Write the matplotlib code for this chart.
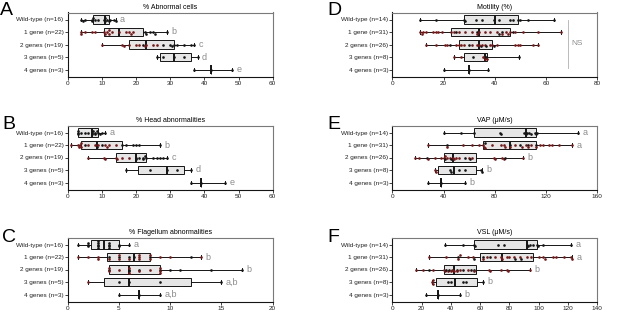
import numpy as np
import matplotlib.pyplot as plt

plt.rcParams['font.family'] = ['Liberation Sans', 'DejaVu Sans']

left_groups = ["Wild-type (n=16)", "1 gene (n=22)", "2 genes (n=19)", "3 genes (n=5)", "4 genes (n=3)"]
right_groups = ["Wild-type (n=14)", "1 gene (n=31)", "2 genes (n=26)", "3 genes (n=8)", "4 genes (n=3)"]

#------------------------------------------------------A: % abnormal cells
a_black = [[4, 4.5, 5, 7, 7.2, 7.5, 8, 9, 10.5, 11, 11, 11.5, 12, 12.5, 13.5, 14],
           [22.5, 23, 24, 25, 25.5, 29],
           [22, 28, 30, 30.5, 31, 32, 34, 36, 37],
           [26, 28, 31, 34, 38],
           [37, 42, 48]]
a_red = [[], [4, 4, 5, 7, 8, 10.5, 11, 11.5, 12, 12, 13, 15, 17, 18, 18.5, 19],
         [10, 16, 16.5, 18, 20, 21, 22.5, 23, 25, 26], [], []]
a_low = [4, 4, 10, 26, 37]
a_q1 = [7.3, 10.5, 18, 27, 42]
a_med = [11, 15, 23, 31, 42]
a_q3 = [12, 22, 31, 36, 42]
a_high = [14, 29, 37, 38, 48]
a_sig = ["a", "b", "c", "d", "e"]

#------------------------------------------------------B: % head abnormalities
b_black = [[3, 3, 3, 4, 5, 6, 7, 7, 7.5, 8, 8, 8.5, 9, 9.5, 10, 11],
           [5, 8.5, 10, 16, 17, 19, 20, 21, 27],
           [20, 20, 21, 22, 22, 22.5, 23, 25, 26, 27, 28, 29],
           [17, 24, 29, 32, 36],
           [36, 39, 46]]
b_red = [[], [1, 3, 3.3, 3.7, 4, 4, 6, 8, 9, 11, 11.5, 12, 14],
         [6, 10.5, 11, 14, 14.5, 16, 18], [], []]
b_low = [3, 1, 6, 17, 36]
b_q1 = [3, 4, 14, 20.5, 39]
b_med = [7, 8.5, 20, 29, 39]
b_q3 = [9, 16, 23, 34, 39]
b_high = [11, 27, 29, 36, 46]
b_sig = ["a", "b", "c", "d", "e"]

#------------------------------------------------------C: % flagellum abnormalities
c_black = [[1, 2, 2, 2, 3, 3, 3, 3, 3, 4, 4, 4, 4, 5, 5, 6],
           [4, 5, 6, 6.5, 8, 12],
           [4, 6, 6, 7, 9, 10, 11, 14, 17],
           [5, 6, 9, 15],
           [5, 7, 9]]
c_red = [[], [1, 2, 3, 3, 4, 5, 5, 6, 7, 7, 7, 8, 8, 9, 10, 13],
         [4, 4, 5, 6, 6, 7, 8, 9, 9, 9], [2], []]
c_low = [1, 1, 4, 2, 5]
c_q1 = [2.3, 3.8, 4, 3.5, 7]
c_med = [3.5, 6.5, 6, 6, 7]
c_q3 = [5, 8, 9, 12, 7]
c_high = [6, 13, 17, 15, 9]
c_sig = ["a", "b", "b", "a,b", "a,b"]

#------------------------------------------------------D: motility
d_black = [[11, 17, 28, 28.5, 32.5, 35, 39.5, 41.5, 46, 47, 49, 50, 53, 63],
           [25, 33, 41.5, 43, 47],
           [22.5, 30, 34.5, 36.5, 39.5],
           [31.5, 36.5, 49.5],
           [20, 30, 37.5]]
d_red = [[], [11, 11.5, 12, 13, 16, 17, 18, 19.5, 23, 24, 26, 28.5, 31, 33, 34, 36, 38, 41,
              43, 44.5, 45, 46, 48, 51, 57, 66],
         [13, 17, 20.5, 21.5, 25, 26, 27, 28, 31, 33, 34, 35, 36, 38, 39, 41, 48, 49, 50, 55, 57],
         [24, 27, 35.5, 36, 37], []]
d_low = [11, 11, 13, 24, 20]
d_q1 = [28, 23, 26, 28, 30]
d_med = [40, 34, 34, 36, 30]
d_q3 = [49, 46, 39, 37, 30]
d_high = [63, 66, 57, 49.5, 37.5]
d_sig = ["", "", "", "", ""]

#------------------------------------------------------E: VAP
e_black = [[40, 54, 64, 84, 85, 103, 104, 105, 107, 108, 111, 112, 113, 145],
           [43, 72, 92, 100, 106, 112],
           [27, 41, 46, 57, 61, 88],
           [45, 46, 52, 57, 69, 70],
           [28, 38, 57]]
e_red = [[], [28, 43, 55, 62, 68, 71, 71.5, 72, 78, 85, 87, 88, 92, 96, 101, 104, 106, 108,
              112, 115, 118, 122, 125, 130, 140],
         [18, 21, 28, 33, 38, 40, 41, 43, 45, 47, 48, 50, 52, 60, 62, 79, 80, 86, 87, 102],
         [33, 34], []]
e_low = [40, 28, 18, 33, 28]
e_q1 = [64, 71, 40, 36, 38]
e_med = [104, 92, 47, 48, 38]
e_q3 = [112, 112, 65, 65, 38]
e_high = [145, 140, 102, 70, 57]
e_sig = ["a", "a", "b", "b", "b"]

#------------------------------------------------------F: VSL
f_black = [[36, 48, 56, 56.5, 72, 76, 92, 93, 94, 96, 99, 99.5, 103, 122],
           [45, 56, 62, 67, 84, 88],
           [25, 37, 39, 44, 48, 54, 56],
           [38, 40, 48, 50, 62],
           [23, 31, 46]]
f_red = [[], [25, 37, 45, 46, 52, 55, 62, 65, 70, 74, 75, 78, 80, 83, 87, 92, 95, 100, 103,
              104, 110, 112, 117, 122, 123],
         [16, 21, 28, 35, 36, 38, 40, 41, 42, 44, 46, 52, 56, 66, 67, 74, 78, 79, 94],
         [27, 27.5, 28], []]
f_low = [36, 25, 16, 27, 23]
f_q1 = [56, 60, 35, 30, 31]
f_med = [92, 75, 42, 43, 31]
f_q3 = [99, 96, 57, 58, 31]
f_high = [122, 123, 94, 62, 46]
f_sig = ["a", "a", "b", "b", "b"]

BLACK = "#151515"
RED = "#761818"
GREY = "#8c8c8c"


#------------------------------------------------------simple beeswarm offsets
def swarm(values, min_dx, dy):
    placed = []
    offs = []
    for v in values:
        for level in [0, dy, -dy, 2 * dy, -2 * dy]:
            if all(abs(v - pv) >= min_dx or pl != level for pv, pl in placed):
                break
        placed.append((v, level))
        offs.append(level)
    return offs


def panel(ax, title, groups, black, red, low, q1, med, q3, high, sig, xmax, step):
    stats = []
    for i in range(len(groups)):
        stats.append(dict(whislo=low[i], q1=q1[i], med=med[i], q3=q3[i], whishi=high[i], fliers=[]))
    ax.bxp(stats, positions=range(len(groups)), orientation="horizontal", widths=0.66,
           patch_artist=True, showfliers=False, capwidths=0.3,
           boxprops=dict(facecolor="#e6e6e6", edgecolor=BLACK, linewidth=0.7),
           medianprops=dict(color=BLACK, linewidth=1.4),
           whiskerprops=dict(color=BLACK, linewidth=0.7),
           capprops=dict(color=BLACK, linewidth=0.7))

    min_dx = xmax / 205 * 1.8
    for i in range(len(groups)):
        vals = [(v, BLACK) for v in black[i]] + [(v, RED) for v in red[i]]
        vals.sort(key=lambda t: t[0])
        offs = swarm([v for v, c in vals], min_dx, 0.13)
        for (v, c), o in zip(vals, offs):
            ax.plot(v, i + o, "o", ms=1.9, color=c, mec="none", zorder=5)
        if sig[i]:
            ax.text(high[i] + xmax * 0.022, i, sig[i], va="center", ha="left",
                    color=GREY, fontsize=6.5)

    ax.set(xlim=(0, xmax), xticks=np.arange(0, xmax + step / 2, step),
           ylim=(4.56, -0.56), yticks=range(len(groups)))
    ax.set_yticklabels(groups)
    ax.set_title(title, fontsize=5, pad=2.5)
    ax.tick_params(labelsize=4.6, length=2, width=0.6, pad=1, colors="#222222")
    for s in ["left", "bottom"]:
        ax.spines[s].set_color(BLACK)
        ax.spines[s].set_linewidth(0.8)
    for s in ["top", "right"]:
        ax.spines[s].set_color("#7a7a7a")
        ax.spines[s].set_linewidth(0.8)


fig = plt.figure(figsize=(6.17, 3.17), dpi=100)
W = 205 / 617
H = 64 / 317
lefts = [67.7 / 617, 392.3 / 617]
bottoms = [1 - 76.5 / 317, 1 - 189.5 / 317, 1 - 301.5 / 317]

axA = fig.add_axes([lefts[0], bottoms[0], W, H])
axB = fig.add_axes([lefts[0], bottoms[1], W, H])
axC = fig.add_axes([lefts[0], bottoms[2], W, H])
axD = fig.add_axes([lefts[1], bottoms[0], W, H])
axE = fig.add_axes([lefts[1], bottoms[1], W, H])
axF = fig.add_axes([lefts[1], bottoms[2], W, H])

panel(axA, "% Abnormal cells", left_groups, a_black, a_red, a_low, a_q1, a_med, a_q3, a_high, a_sig, 60, 10)
panel(axB, "% Head abnormalities", left_groups, b_black, b_red, b_low, b_q1, b_med, b_q3, b_high, b_sig, 60, 10)
panel(axC, "% Flagellum abnormalities", left_groups, c_black, c_red, c_low, c_q1, c_med, c_q3, c_high, c_sig, 20, 5)
panel(axD, "Motility (%)", right_groups, d_black, d_red, d_low, d_q1, d_med, d_q3, d_high, d_sig, 80, 20)
panel(axE, "VAP (\u03bcM/s)", right_groups, e_black, e_red, e_low, e_q1, e_med, e_q3, e_high, e_sig, 160, 40)
panel(axF, "VSL (\u03bcM/s)", right_groups, f_black, f_red, f_low, f_q1, f_med, f_q3, f_high, f_sig, 140, 20)

# NS bracket on motility
axD.plot([68.7, 68.7], [0, 3.9], color="#b0b0b0", lw=0.6)
axD.text(72.2, 1.9, "NS", color=GREY, fontsize=6, va="center", ha="center")

# panel letters
for lbl, x, ytop in [("A", 0.0, 2), ("B", 2, 116), ("C", 2, 229),
                     ("D", 327, 2), ("E", 327, 116), ("F", 327, 229)]:
    fig.text(x / 617, 1 - ytop / 317, lbl, fontsize=14, va="top", ha="left")

fig.savefig("out.png", dpi=100)
